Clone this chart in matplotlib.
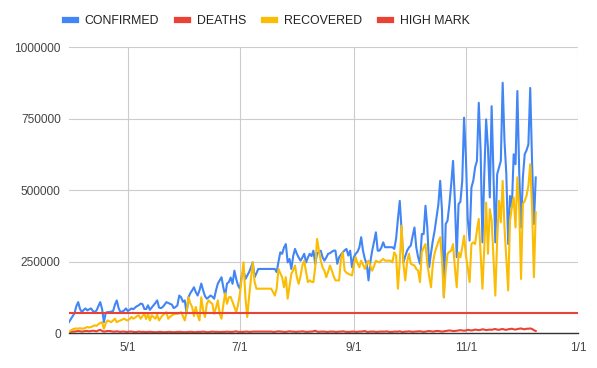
import pandas as pd
import matplotlib
matplotlib.use("Agg")
import matplotlib.pyplot as plt
import matplotlib.dates as mdates
from matplotlib.ticker import FuncFormatter

plt.rcParams['font.family'] = ['Liberation Sans', 'DejaVu Sans']

start_date = "2020-03-30"
end_date = "2021-01-01"

# daily values, in thousands
confirmed_k = [
    39, 50, 60, 70, 95, 109, 85, 74, 82, 87, 80, 84, 87, 78, 74, 80, 95, 109, 85, 39, 72,
    74, 74, 76, 78, 100, 115, 88, 74, 76, 80, 87, 78, 82, 87, 84, 90, 95, 98, 104, 102, 85,
    85, 98, 82, 90, 98, 106, 115, 90, 88, 92, 100, 109, 106, 103, 100, 88, 92, 98, 132, 126,
    110, 115, 70, 126, 140, 150, 161, 144, 132, 150, 174, 150, 130, 121, 126, 132, 128, 121,
    150, 174, 185, 196, 160, 132, 174, 179,
    195, 173, 219, 190, 167, 156, 200, 219, 190, 202, 214, 230, 248, 196, 210, 225,
    225, 225, 225, 225, 225, 225, 225, 225, 225,
    214, 250, 283, 278, 300, 312, 248, 260, 225, 270, 295, 278, 265, 254, 265, 278, 248, 265, 278,
    270, 289, 243, 278, 285, 289, 266, 254, 265, 278, 280, 285, 289, 289, 243, 266, 275, 283,
    290, 295, 272, 289, 231, 266, 278, 285, 300, 336, 289, 260, 243, 185, 250, 289, 320, 353,
    289, 289, 300, 318, 301, 301, 301, 301,
    301, 295, 330, 400, 463, 359, 248, 270, 289, 300, 307, 340, 370, 300, 266, 243, 347, 347,
    446, 370, 231, 280, 324, 360, 405, 450, 533, 428, 126, 382, 394, 450, 521, 603, 463, 266, 452,
    460, 533, 754, 614, 400, 324, 510, 533, 580, 603, 806, 638, 318, 556, 748, 649, 475, 794,
    556, 318, 556, 580, 603, 876, 672, 556, 312, 480, 440, 626, 591, 847, 568, 370, 545, 626,
    640, 660, 858, 600, 382, 545,
]

recovered_k = [
    5, 10, 14, 16, 17, 16, 18, 16, 17, 19, 22, 20, 22, 25, 28, 26, 32, 36, 39, 16, 35, 45, 42,
    39, 45, 51, 39, 42, 45, 48, 51, 47, 45, 50, 57, 51, 55, 60, 63, 51, 60, 68,
    50, 68, 45, 63, 57, 51, 65, 45, 55, 63, 68, 74, 51, 58, 63, 66, 68, 68, 70, 74, 60, 45, 74,
    126, 105, 92, 60, 92, 63, 45, 126, 80, 57, 103, 115, 108, 103, 68, 90, 115, 68, 51, 100,
    140, 103, 126,
    127, 110, 92, 74, 100, 138, 196, 248, 127, 57, 127, 190, 248, 180,
    156, 156, 156, 156, 156, 156, 156, 156, 156,
    145, 132, 156, 225, 210, 196, 161, 196, 121, 165, 208, 220, 237, 196, 173, 200, 237, 254,
    215, 179, 185,
    180, 179, 231, 330, 290, 254, 230, 219, 196, 215, 237, 220, 200, 185, 185, 185, 260, 283,
    219, 212, 208, 205, 202, 240, 266, 245, 231, 254, 240, 225, 243, 254, 235, 219, 235, 254,
    250, 248, 255, 260, 254, 254, 254, 254,
    248, 283, 272, 156, 250, 376, 243, 185, 250, 278, 243, 240, 237, 225, 219, 179, 283, 300,
    312, 243, 200, 161, 243, 280, 301, 320, 336, 254, 126, 220, 278, 285, 289, 312, 230, 161, 283,
    266, 300, 341, 272, 230, 179, 312, 318, 312, 360, 400, 278, 156, 301, 457, 278, 434, 394,
    260, 132, 324, 463, 388, 533, 370, 260, 150, 394, 440, 475, 370, 545, 440, 190, 452, 463,
    481, 516, 591, 440, 196, 423,
]

deaths_k = [
    4, 5, 6, 6, 7, 8, 7, 6, 7, 8, 8, 7, 8, 9,
    8, 7, 10, 12, 8, 6, 7, 8, 8, 7, 6, 6, 7, 6,
    5, 6, 6, 5, 5, 6, 6, 5, 4, 5, 6, 5, 5, 5,
    4, 5, 5, 5, 4, 4, 4, 5, 5, 4, 4, 4, 5, 5,
    4, 4, 4, 5, 5, 5, 4, 4, 4, 5, 5, 5, 4, 4,
    5, 5, 5, 6, 5, 4, 4, 5, 6, 5, 5, 5, 4, 5,
    5, 5, 6, 5, 5, 5, 6, 7, 5, 5, 5, 5, 6, 6,
    5, 5, 6, 6, 6, 6, 6, 6, 6, 6, 6, 6, 6, 5,
    5, 6, 7, 6, 6, 5, 5, 6, 7, 6, 6, 5, 5, 6,
    6, 7, 6, 5, 5, 6, 6, 7, 9, 6, 5, 6, 6, 6,
    5, 5, 6, 6, 6, 5, 5, 6, 6, 7, 6, 5, 5, 5,
    6, 6, 5, 5, 6, 6, 7, 8, 5, 5, 6, 6, 6, 5,
    5, 6, 6, 6, 6, 7, 5, 5, 5, 6, 6, 6, 7, 5,
    5, 6, 6, 7, 6, 5, 6, 6, 7, 7, 6, 5, 6, 7,
    8, 7, 6, 7, 8, 8, 7, 6, 7, 8, 9, 10, 9, 8,
    8, 9, 10, 11, 10, 9, 10, 12, 11, 10, 11, 13, 12, 11,
    12, 14, 13, 11, 12, 13, 12, 14, 15, 13, 12, 14, 15, 13,
    12, 14, 15, 16, 14, 13, 15, 16, 17, 15, 14, 16, 16, 17,
    15, 11, 8,
]

high_mark = 70000
high_mark_dates = [start_date, end_date]

y_ticks = [0, 250000, 500000, 750000, 1000000]
x_ticks = ["2020-05-01", "2020-07-01", "2020-09-01", "2020-11-01", "2021-01-01"]

BLUE = "#4285f4"
RED = "#ea4335"
YELLOW = "#fbbc04"

dates = pd.date_range(start_date, periods=len(confirmed_k), freq="D")
confirmed = pd.Series(confirmed_k, index=dates) * 1000
recovered = pd.Series(recovered_k, index=dates) * 1000
deaths = pd.Series(deaths_k, index=dates) * 1000

fig = plt.figure(figsize=(5.97, 3.68), dpi=100)
ax = fig.add_axes([69 / 597, 1 - 333.3 / 368, (578 - 69) / 597, (333.3 - 47.3) / 368])

ax.plot(confirmed.index, confirmed.values, color=BLUE, lw=1.5, label="CONFIRMED", zorder=3)
ax.plot(deaths.index, deaths.values, color=RED, lw=1.5, label="DEATHS", zorder=4)
ax.plot(recovered.index, recovered.values, color=YELLOW, lw=1.5, label="RECOVERED", zorder=4)
ax.plot(pd.to_datetime(high_mark_dates), [high_mark, high_mark], color=RED, lw=1.5,
        label="HIGH MARK", zorder=5)

ax.set_xlim(pd.Timestamp(start_date), pd.Timestamp(end_date))
ax.set_ylim(0, 1000000)
ax.set_yticks(y_ticks)
ax.yaxis.set_major_formatter(FuncFormatter(lambda v, p: f"{int(v)}"))
ax.set_xticks(pd.to_datetime(x_ticks))
ax.xaxis.set_major_formatter(FuncFormatter(
    lambda v, p: f"{mdates.num2date(v).month}/{mdates.num2date(v).day}"))

ax.grid(True, color="#cccccc", lw=0.8)
ax.set_axisbelow(True)
for s in ["top", "right", "left"]:
    ax.spines[s].set_visible(False)
ax.spines["bottom"].set_color("#333333")
ax.spines["bottom"].set_linewidth(1.0)
ax.spines["bottom"].set_zorder(6)
ax.tick_params(axis="both", length=0, labelsize=8.6, labelcolor="#444444")
ax.tick_params(axis="y", pad=6)
ax.tick_params(axis="x", pad=6)

leg = fig.legend(loc="center left", bbox_to_anchor=(65 / 597, 1 - 21 / 368), ncol=4,
                 frameon=False, fontsize=8.9, handlelength=0.85, handletextpad=0.75,
                 columnspacing=1.45, borderpad=0, borderaxespad=0)
for line in leg.get_lines():
    line.set_linewidth(4.5)
for t in leg.get_texts():
    t.set_color("#222222")

fig.savefig("out.png", dpi=100)
